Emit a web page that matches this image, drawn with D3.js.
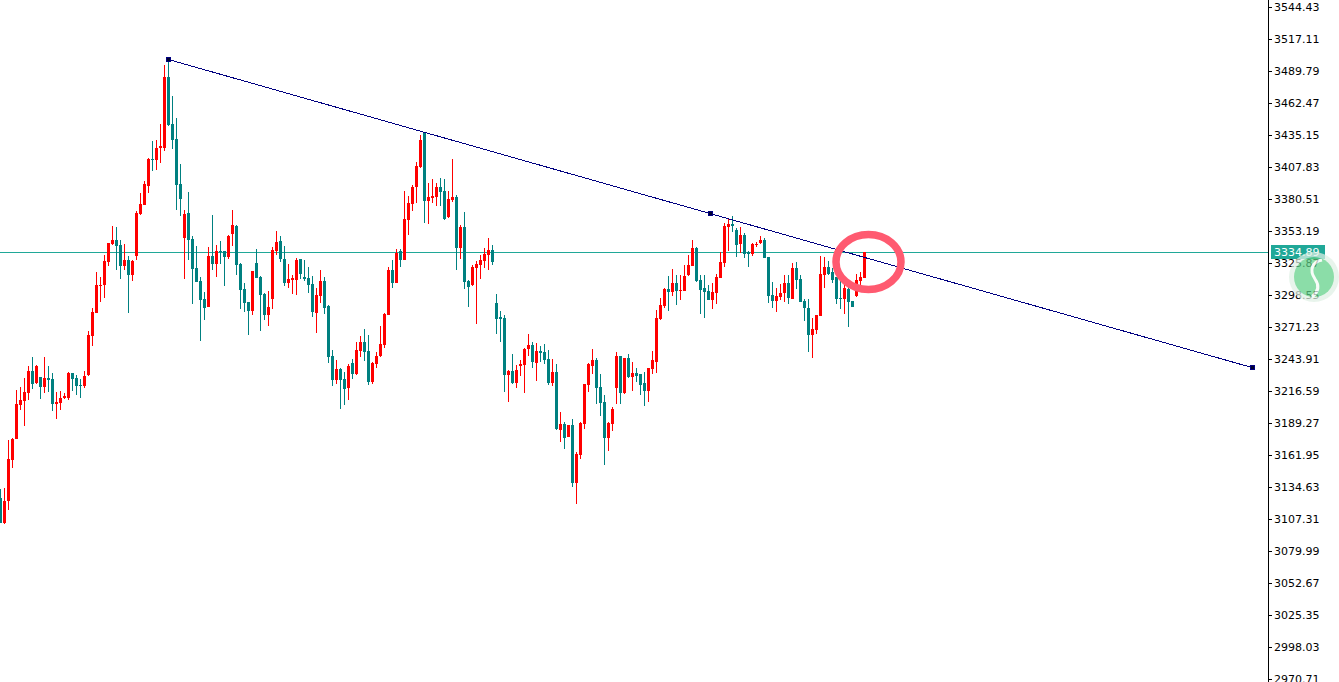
<!DOCTYPE html>
<html><head><meta charset="utf-8">
<script src="https://cdn.jsdelivr.net/npm/d3@7"></script>
<style>html,body{margin:0;padding:0;background:#fff;overflow:hidden}svg{display:block}</style>
</head><body><svg id="c" width="1339" height="682"></svg>
<script>
const opens=[3125.2,3103.9,3122.7,3157.7,3175.6,3204.6,3208.1,3214.9,3233.7,3223.4,
3228.5,3220.0,3227.7,3226.8,3205.5,3206.3,3210.6,3210.6,3232.0,3227.7,
3221.7,3220.9,3230.3,3263.5,3283.2,3306.2,3307.1,3326.7,3342.1,3345.5,
3341.2,3323.3,3328.4,3315.6,3331.8,3367.7,3375.4,3391.6,3414.7,3413.8,
3424.0,3424.0,3484.7,3444.5,3431.7,3393.3,3347.2,3368.6,3346.3,3321.6,
3310.5,3295.1,3288.3,3331.8,3325.0,3336.1,3336.1,3331.0,3350.6,3357.5,
3325.0,3303.7,3292.6,3284.9,3325.9,3313.9,3299.4,3281.5,3295.1,3336.1,
3344.6,3329.3,3308.8,3311.4,3311.4,3329.3,3313.9,3313.1,3307.9,3283.2,
3297.7,3310.5,3289.2,3246.5,3226.0,3235.4,3226.8,3219.2,3240.5,3231.1,
3250.7,3258.4,3250.7,3224.3,3239.6,3246.5,3255.9,3281.5,3319.9,3308.8,
3336.1,3328.4,3362.6,3376.2,3390.7,3407.8,3437.7,3378.8,3381.4,3382.2,
3390.7,3387.3,3365.2,3379.7,3382.2,3338.7,3356.6,3310.5,3307.1,3321.6,
3324.2,3327.6,3332.7,3337.0,3291.7,3279.8,3278.9,3230.3,3233.7,3223.4,
3238.0,3238.8,3252.4,3255.9,3240.5,3250.7,3249.9,3243.9,3223.4,3232.8,
3183.3,3188.4,3177.3,3187.6,3138.0,3161.9,3188.4,3221.7,3238.0,3243.1,
3220.0,3207.2,3176.5,3188.4,3219.2,3246.5,3214.9,3244.8,3228.5,3232.0,
3231.1,3223.4,3216.6,3235.4,3241.3,3278.1,3289.2,3303.7,3301.1,3308.8,
3302.0,3302.0,3315.6,3323.3,3338.7,3311.4,3304.5,3302.0,3294.3,3300.3,
3313.1,3325.9,3356.6,3359.2,3354.0,3342.1,3349.8,3335.3,3333.6,3341.2,
3343.0,3345.5,3331.0,3298.6,3293.4,3296.9,3300.3,3308.8,3295.1,3321.6,
3312.2,3293.4,3287.4,3264.4,3268.7,3280.6,3315.6,3322.4,3318.2,3313.9,
3296.0,3295.1,3303.7,3293.4,3297.7,3310.5,3313.1];
const closes=[3103.9,3122.7,3158.5,3175.6,3205.5,3208.9,3215.7,3233.7,3222.6,3238.0,
3220.0,3227.7,3226.0,3205.5,3207.2,3210.6,3212.3,3232.0,3226.8,3220.9,
3220.9,3229.4,3264.4,3284.0,3307.1,3307.1,3327.6,3343.0,3345.5,3340.4,
3323.3,3328.4,3315.6,3327.6,3368.6,3376.2,3393.3,3414.7,3413.8,3424.0,
3425.8,3484.7,3443.7,3430.9,3392.5,3380.5,3367.7,3345.5,3320.7,3309.6,
3294.3,3287.4,3331.8,3325.0,3336.1,3335.3,3331.0,3348.9,3358.3,3324.2,
3302.8,3291.7,3284.9,3319.0,3313.1,3298.6,3281.5,3288.3,3337.0,3343.8,
3329.3,3308.8,3312.2,3313.1,3328.4,3316.5,3312.2,3307.1,3284.0,3298.6,
3310.5,3287.4,3245.6,3226.0,3235.4,3226.0,3218.3,3238.0,3231.1,3251.6,
3258.4,3249.9,3224.3,3240.5,3246.5,3256.7,3282.3,3319.9,3308.8,3334.4,
3328.4,3363.4,3377.1,3390.7,3408.7,3430.9,3378.8,3382.2,3383.1,3390.7,
3386.5,3363.4,3380.5,3382.2,3338.7,3356.6,3309.6,3305.4,3322.4,3325.0,
3328.4,3333.6,3337.0,3326.7,3278.1,3278.1,3230.3,3233.7,3223.4,3234.5,
3239.6,3252.4,3255.9,3241.3,3250.7,3249.0,3243.1,3223.4,3232.8,3184.2,
3188.4,3176.5,3187.6,3138.0,3162.8,3189.3,3222.6,3239.6,3243.1,3219.2,
3206.3,3176.5,3189.3,3201.2,3246.5,3214.9,3244.8,3228.5,3232.0,3229.4,
3221.7,3216.6,3236.2,3243.1,3278.9,3290.0,3303.7,3301.1,3308.8,3302.0,
3302.8,3314.8,3324.2,3338.7,3310.5,3302.8,3301.1,3294.3,3301.1,3313.9,
3326.7,3357.5,3359.2,3357.5,3341.2,3349.8,3333.6,3333.6,3342.1,3342.1,
3345.5,3330.1,3297.7,3293.4,3297.7,3300.3,3308.8,3296.0,3321.6,3311.4,
3292.6,3287.4,3264.4,3269.5,3281.5,3316.5,3322.4,3316.5,3311.4,3295.1,
3295.1,3304.5,3292.6,3288.3,3311.4,3313.9,3334.89];
const highs=[3132.9,3133.8,3174.8,3176.5,3217.4,3220.0,3227.7,3238.0,3245.6,3238.8,
3228.5,3245.6,3238.0,3232.0,3215.7,3216.6,3214.9,3232.8,3232.0,3230.3,
3226.8,3233.7,3267.8,3287.4,3318.2,3313.9,3332.7,3343.0,3357.5,3356.6,
3345.5,3342.1,3331.8,3328.4,3370.3,3385.6,3395.9,3415.5,3430.0,3430.9,
3444.5,3494.9,3499.2,3468.4,3449.7,3410.4,3371.1,3386.5,3348.9,3340.4,
3313.9,3301.1,3339.5,3366.9,3341.2,3344.6,3336.1,3349.8,3371.1,3358.3,
3325.9,3308.8,3292.6,3319.0,3337.8,3314.8,3300.3,3302.0,3339.5,3353.2,
3348.9,3340.4,3325.0,3315.6,3330.1,3329.3,3328.4,3322.4,3314.8,3304.5,
3319.9,3313.9,3290.0,3251.6,3243.1,3236.2,3232.8,3239.6,3243.9,3258.4,
3263.5,3269.5,3264.4,3241.3,3249.9,3272.1,3283.2,3322.4,3328.4,3337.8,
3337.8,3387.3,3383.1,3392.5,3412.1,3435.2,3437.7,3394.2,3397.6,3394.2,
3398.4,3397.6,3387.3,3414.7,3383.9,3358.3,3369.4,3311.4,3324.2,3327.6,
3332.7,3338.7,3347.2,3341.2,3299.4,3284.9,3281.5,3234.5,3248.2,3238.8,
3243.1,3253.3,3265.3,3258.4,3257.6,3255.0,3256.7,3251.6,3243.9,3239.6,
3198.7,3190.1,3187.6,3192.7,3164.5,3190.1,3222.6,3240.5,3252.4,3244.8,
3231.1,3213.2,3190.1,3202.9,3249.9,3246.5,3244.8,3248.2,3241.3,3236.2,
3231.1,3232.8,3236.2,3250.7,3285.7,3296.0,3304.5,3314.8,3320.7,3315.6,
3315.6,3324.2,3332.7,3345.5,3339.5,3315.6,3315.6,3307.1,3308.8,3316.5,
3335.3,3360.0,3363.4,3366.0,3355.7,3356.6,3351.5,3336.1,3343.0,3343.8,
3348.9,3347.2,3331.0,3309.6,3304.5,3307.9,3315.6,3315.6,3325.9,3326.7,
3315.6,3295.1,3295.1,3278.9,3281.5,3331.8,3331.0,3327.6,3321.6,3313.9,
3311.4,3307.1,3307.1,3293.4,3316.5,3318.2,3335.3];
const lows=[3103.9,3103.0,3115.0,3150.8,3175.6,3200.4,3186.7,3208.9,3218.3,3222.6,
3209.8,3214.9,3215.7,3199.5,3192.7,3200.4,3209.8,3208.9,3216.6,3213.2,
3210.6,3219.2,3229.4,3255.0,3283.2,3292.6,3296.0,3323.3,3341.2,3319.9,
3312.2,3319.9,3283.2,3310.5,3328.4,3366.9,3375.4,3385.6,3404.4,3405.3,
3411.2,3421.5,3442.8,3423.2,3371.1,3366.0,3312.2,3328.4,3290.9,3309.6,
3259.3,3277.2,3288.3,3319.9,3313.9,3325.0,3306.2,3329.3,3340.4,3315.6,
3286.6,3284.0,3264.4,3281.5,3313.1,3267.8,3277.2,3272.1,3286.6,3332.7,
3326.7,3306.2,3304.5,3299.4,3298.6,3312.2,3310.5,3300.3,3279.8,3266.1,
3291.7,3282.3,3240.5,3220.9,3222.6,3201.2,3204.6,3208.9,3226.8,3230.3,
3245.6,3242.2,3221.7,3222.6,3236.2,3245.6,3253.3,3281.5,3304.5,3308.8,
3322.4,3328.4,3349.8,3370.3,3377.1,3407.0,3360.0,3359.2,3377.1,3374.5,
3374.5,3362.6,3364.3,3377.9,3319.9,3329.3,3303.7,3288.3,3306.2,3273.8,
3312.2,3321.6,3319.9,3324.2,3265.3,3258.4,3215.7,3207.2,3222.6,3219.2,
3229.4,3214.9,3246.5,3236.2,3225.1,3241.3,3239.6,3221.7,3220.9,3183.3,
3173.1,3167.1,3177.3,3134.6,3120.1,3158.5,3184.2,3215.7,3231.1,3205.5,
3195.3,3153.4,3165.4,3182.4,3205.5,3205.5,3214.0,3227.7,3216.6,3224.3,
3213.2,3203.8,3207.2,3231.1,3232.0,3277.2,3287.4,3284.9,3297.7,3290.0,
3294.3,3302.0,3314.8,3323.3,3309.6,3282.3,3278.9,3294.3,3286.6,3290.9,
3313.1,3322.4,3336.1,3352.3,3331.0,3334.4,3330.1,3322.4,3331.8,3339.5,
3342.1,3330.1,3291.7,3287.4,3284.0,3294.3,3292.6,3290.9,3295.1,3303.7,
3292.6,3276.3,3249.9,3244.8,3265.3,3280.6,3304.5,3315.6,3308.8,3290.9,
3286.6,3282.3,3271.3,3288.3,3296.9,3307.1,3313.1];
const tickLabels=["3544.43","3517.11","3489.79","3462.47","3435.15","3407.83","3380.51","3353.19","3325.87","3298.55","3271.23","3243.91","3216.59","3189.27","3161.95","3134.63","3107.31","3079.99","3052.67","3025.35","2998.03","2970.71"];
const trendIndex=[42,177.5,313];
const trendPrice=[3499.6,3368.0,3236.5];
const lastPrice=3334.89;
const lastLabel="3334.89";

const svg=d3.select("#c");
const x=d3.scaleLinear().domain([0,1]).range([0,4]);
const y=d3.scaleLinear().domain([3544.43,2970.71]).range([7,679]);
const UP="#ff0000",DOWN="#008080",LAST="#20a898",TREND="#000080";
const idx=d3.range(opens.length);
const col=i=>closes[i]>=opens[i]?UP:DOWN;

// price line
svg.append("line").attr("x1",0).attr("x2",1268).attr("y1",Math.round(y(lastPrice))+.5).attr("y2",Math.round(y(lastPrice))+.5)
  .attr("stroke",LAST).attr("stroke-width",1).attr("shape-rendering","crispEdges");

// candles
const g=svg.append("g").attr("shape-rendering","crispEdges");
g.selectAll("rect.w").data(idx).join("rect").attr("class","w")
  .attr("x",i=>x(i)).attr("width",1)
  .attr("y",i=>Math.round(y(highs[i])))
  .attr("height",i=>Math.max(1,Math.round(y(lows[i]))-Math.round(y(highs[i]))))
  .attr("fill",col);
g.selectAll("rect.b").data(idx).join("rect").attr("class","b")
  .attr("x",i=>x(i)-1).attr("width",3)
  .attr("y",i=>Math.round(y(Math.max(opens[i],closes[i]))))
  .attr("height",i=>Math.max(1,Math.round(y(Math.min(opens[i],closes[i])))-Math.round(y(Math.max(opens[i],closes[i])))))
  .attr("fill",col);

// trend line with anchors
const trendLine=d3.line().x((d,i)=>x(trendIndex[i])+.5).y(d=>y(d));
svg.append("path").attr("d",trendLine(trendPrice)).attr("fill","none").attr("stroke",TREND).attr("stroke-width",1).attr("shape-rendering","crispEdges");
const anch=svg.append("g").attr("shape-rendering","crispEdges");
anch.selectAll("rect.o").data(trendPrice).join("rect").attr("class","o")
  .attr("x",(d,i)=>x(trendIndex[i])-2).attr("y",d=>Math.round(y(d))-3).attr("width",5).attr("height",5).attr("fill",TREND);
anch.selectAll("rect.i").data(trendPrice).join("rect").attr("class","i")
  .attr("x",(d,i)=>x(trendIndex[i])-1).attr("y",d=>Math.round(y(d))-2).attr("width",3).attr("height",3).attr("fill","#000030");

// right axis
svg.append("rect").attr("x",1268).attr("y",0).attr("width",71).attr("height",682).attr("fill","#fff");
const axis=d3.axisRight(y).tickValues(tickLabels.map(Number)).tickFormat((d,i)=>tickLabels[i]).tickSize(4).tickPadding(2).tickSizeOuter(0);
const ax=svg.append("g").attr("transform","translate(1268,0)").call(axis);
ax.select(".domain").remove();
ax.selectAll("text").attr("font-family","'DejaVu Sans',sans-serif").attr("font-size",11).attr("fill","#000");
ax.selectAll("line").attr("stroke","#000");
svg.append("line").attr("x1",1268.5).attr("x2",1268.5).attr("y1",0).attr("y2",682).attr("stroke","#000");

// last price tag
const ly=Math.round(y(lastPrice));
svg.append("rect").attr("x",1271).attr("y",ly-7).attr("width",54).attr("height",14).attr("fill",LAST);
svg.append("text").attr("x",1274).attr("y",ly+4).attr("font-family","'DejaVu Sans',sans-serif").attr("font-size",11).attr("fill","#fff").text(lastLabel);

// highlight ring
svg.append("ellipse").attr("cx",868.5).attr("cy",262).attr("rx",32.5).attr("ry",27.5)
  .attr("fill","none").attr("stroke","#ff5a70").attr("stroke-width",7.5);

// logo watermark
const logo=svg.append("g").attr("opacity",.72);
logo.append("circle").attr("cx",1314).attr("cy",277).attr("r",25).attr("fill","#e0f1e5");
logo.append("circle").attr("cx",1314).attr("cy",277).attr("r",20).attr("fill","#5fd087");
logo.append("path").attr("d","M1322 260 C1312 262,1309 270,1315 279 C1320 286,1318 292,1312 297")
  .attr("fill","none").attr("stroke","#f4fbf6").attr("stroke-width",3);
</script></body></html>
